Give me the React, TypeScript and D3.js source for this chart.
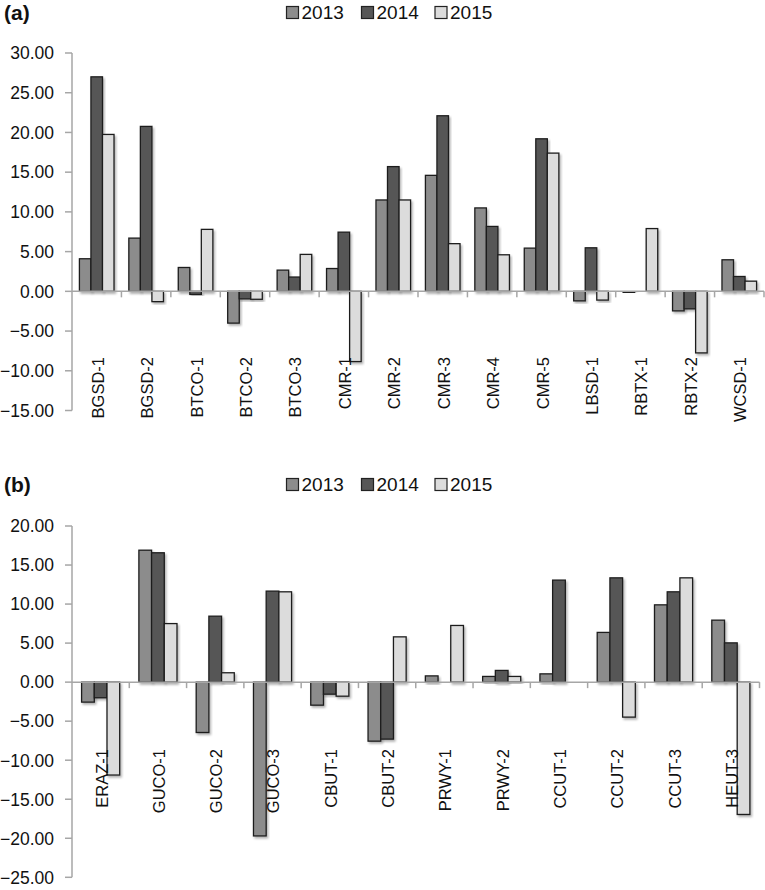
import React from "react";
import * as d3 from "d3";

const years = ["2013", "2014", "2015"];
const colors = ["#8c8c8c", "#575757", "#dcdcdc"];

const catsA = ["BGSD-1", "BGSD-2", "BTCO-1", "BTCO-2", "BTCO-3", "CMR-1", "CMR-2", "CMR-3", "CMR-4", "CMR-5", "LBSD-1", "RBTX-1", "RBTX-2", "WCSD-1"];
const a2013 = [4.1, 6.7, 3.0, -4.0, 2.67, 2.87, 11.5, 14.6, 10.5, 5.44, -1.2, -0.15, -2.46, 3.97];
const a2014 = [27.0, 20.76, -0.38, -0.95, 1.8, 7.45, 15.7, 22.1, 8.17, 19.2, 5.48, 0, -2.2, 1.87];
const a2015 = [19.75, -1.3, 7.8, -1.0, 4.65, -8.84, 11.5, 6.0, 4.6, 17.4, -1.1, 7.9, -7.75, 1.28];
const ticksA = [30, 25, 20, 15, 10, 5, 0, -5, -10, -15];

const catsB = ["ERAZ-1", "GUCO-1", "GUCO-2", "GUCO-3", "CBUT-1", "CBUT-2", "PRWY-1", "PRWY-2", "CCUT-1", "CCUT-2", "CCUT-3", "HEUT-3"];
const b2013 = [-2.56, 16.9, -6.45, -19.7, -2.95, -7.56, 0.8, 0.73, 1.06, 6.37, 9.9, 7.94];
const b2014 = [-2.0, 16.57, 8.45, 11.66, -1.54, -7.3, 0, 1.5, 13.07, 13.36, 11.57, 5.03];
const b2015 = [-11.9, 7.5, 1.2, 11.57, -1.8, 5.8, 7.26, 0.73, 0, -4.48, 13.36, -16.95];
const ticksB = [20, 15, 10, 5, 0, -5, -10, -15, -20, -25];

const FONT = "'Liberation Sans', Arial, sans-serif";

type PanelProps = {
  title: string;
  cats: string[];
  series: number[][];
  ticks: number[];
  yDomain: [number, number];
  yRange: [number, number];
  xRange: [number, number];
  pad: number;
  labelY: number;
  legendY: number;
};

function Panel(p: PanelProps) {
  const y = d3.scaleLinear().domain(p.yDomain).range(p.yRange);
  const x0 = d3.scaleBand<string>().domain(p.cats).range(p.xRange).paddingInner(p.pad).paddingOuter(p.pad / 2);
  const x1 = d3.scaleBand<string>().domain(years).range([0, x0.bandwidth()]);
  const step = x0.step();
  const y0 = y(0);
  const legendX = [286.5, 361.5, 435];
  return (
    <g>
      <text x={4} y={p.legendY + 1} fontFamily={FONT} fontWeight="bold" fontSize={21} fill="#111">{p.title}</text>
      {years.map((yr, i) => (
        <g key={yr}>
          <rect x={legendX[i]} y={p.legendY - 12} width={12} height={12} fill={colors[i]} stroke="#222" strokeWidth={1.2} />
          <text x={legendX[i] + 15} y={p.legendY} fontFamily={FONT} fontSize={19} fill="#111">{yr}</text>
        </g>
      ))}
      {/* y axis */}
      <line x1={p.xRange[0]} x2={p.xRange[0]} y1={y(p.ticks[0])} y2={y(p.ticks[p.ticks.length - 1])} stroke="#a6a6a6" strokeWidth={1.5} />
      {p.ticks.map((t) => (
        <g key={t}>
          <line x1={p.xRange[0] - 7} x2={p.xRange[0]} y1={y(t)} y2={y(t)} stroke="#a6a6a6" strokeWidth={1.5} />
          <text x={54} y={y(t)} dy="0.36em" textAnchor="end" fontFamily={FONT} fontSize={17.5} fill="#111">{d3.format(".2f")(t)}</text>
        </g>
      ))}
      {/* bars */}
      {p.cats.map((c, ci) => (
        <g key={c} transform={`translate(${x0(c)},0)`}>
          {years.map((yr, si) => {
            const v = p.series[si][ci];
            if (v === 0) return null;
            const top = Math.min(y(v), y0);
            const h = Math.abs(y(v) - y0);
            return (
              <rect key={yr} x={x1(yr)} y={top} width={x1.bandwidth()} height={Math.max(h, 0.8)} fill={colors[si]} stroke="#1e1e1e" strokeWidth={1.3} filter="url(#shadow)" />
            );
          })}
        </g>
      ))}
      {/* x axis */}
      <line x1={p.xRange[0]} x2={p.xRange[1]} y1={y0} y2={y0} stroke="#a6a6a6" strokeWidth={1.5} />
      {p.cats.map((c, ci) => (
        <line key={"t" + c} x1={p.xRange[0] + step * (ci + 1)} x2={p.xRange[0] + step * (ci + 1)} y1={y0} y2={y0 + 6} stroke="#a6a6a6" strokeWidth={1.5} />
      ))}
      {p.cats.map((c) => {
        const cx = (x0(c) as number) + x0.bandwidth() / 2 + 1;
        return (
          <text key={"l" + c} transform={`translate(${cx},${p.labelY}) rotate(-90)`} dy="0.36em" textAnchor="end" fontFamily={FONT} fontSize={16.5} fill="#111">{c}</text>
        );
      })}
    </g>
  );
}

export default function App() {
  return (
    <svg width={765} height={890} style={{ position: "absolute", left: 0, top: 0, background: "#fff" }}>
      <defs>
        <filter id="shadow" x="-20%" y="-20%" width="150%" height="150%">
          <feDropShadow dx={1.5} dy={2} stdDeviation={1.2} floodColor="#000" floodOpacity={0.3} />
        </filter>
      </defs>
      <rect width={765} height={890} fill="#fff" />
      <Panel
        title="(a)"
        cats={catsA}
        series={[a2013, a2014, a2015]}
        ticks={ticksA}
        yDomain={[-15, 30]}
        yRange={[410.5, 53]}
        xRange={[72, 764]}
        pad={0.3}
        labelY={357}
        legendY={18.5}
      />
      <Panel
        title="(b)"
        cats={catsB}
        series={[b2013, b2014, b2015]}
        ticks={ticksB}
        yDomain={[-25, 20]}
        yRange={[877.3, 526]}
        xRange={[72, 759.5]}
        pad={0.335}
        labelY={749}
        legendY={490.5}
      />
    </svg>
  );
}
